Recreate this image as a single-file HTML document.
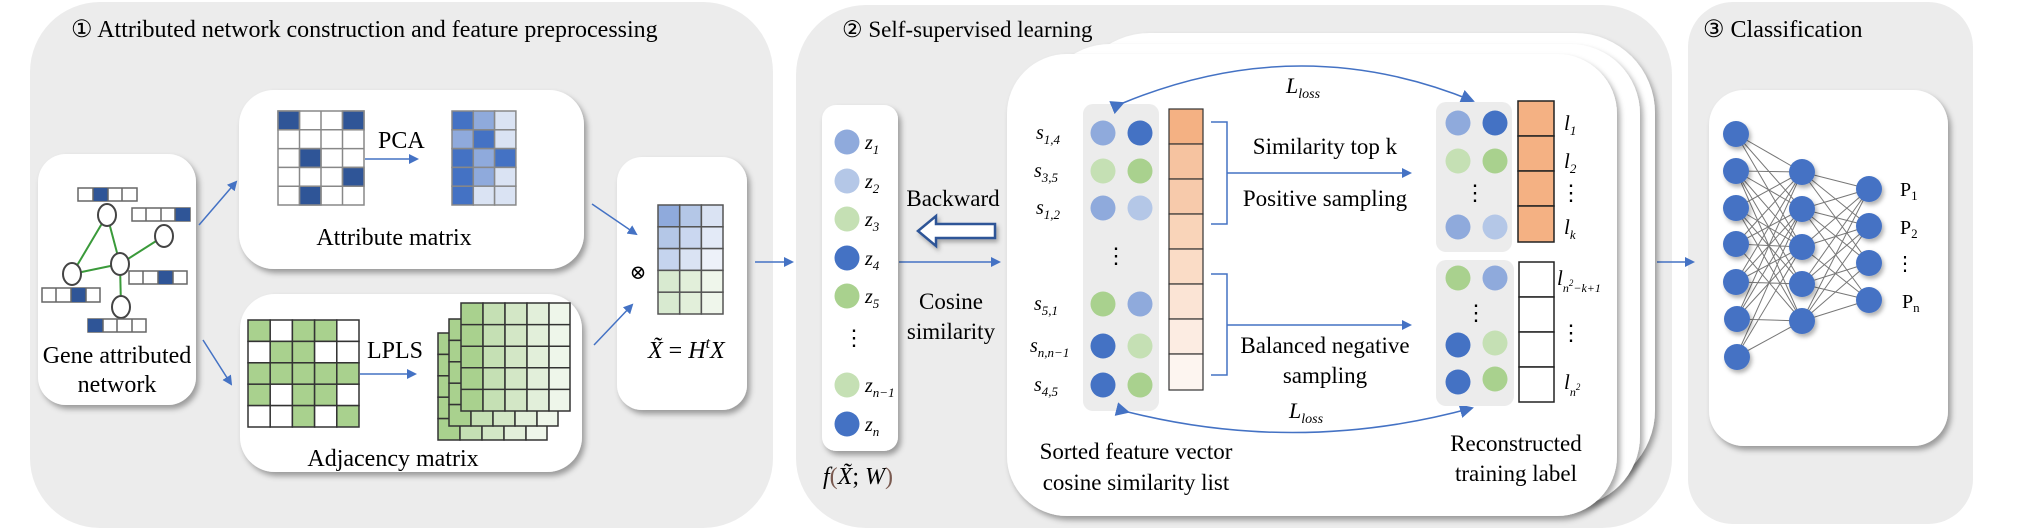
<!DOCTYPE html>
<html><head><meta charset="utf-8"><style>
html,body{margin:0;padding:0;background:#fff;}
svg{display:block;font-family:"Liberation Serif","Times New Roman",Tinos,"DejaVu Serif",serif;}
svg text{font-family:"Liberation Serif","Times New Roman",Tinos,"DejaVu Serif",serif;fill:#000;}
.it{font-style:italic;}
</style></head><body>
<svg width="2017" height="530" viewBox="0 0 2017 530" xmlns="http://www.w3.org/2000/svg" font-family="Liberation Serif, Times New Roman, serif">
<defs>
<filter id="sh" x="-10%" y="-10%" width="125%" height="125%"><feDropShadow dx="3" dy="4" stdDeviation="3" flood-color="#000" flood-opacity="0.35"/></filter>
<filter id="sh2" x="-30%" y="-30%" width="170%" height="170%"><feDropShadow dx="2" dy="3" stdDeviation="2" flood-color="#000" flood-opacity="0.3"/></filter>
<marker id="ah" markerWidth="10" markerHeight="10" refX="8" refY="5" orient="auto" markerUnits="userSpaceOnUse"><path d="M0,0 L10,5 L0,10 z" fill="#4472c4"/></marker>
<marker id="ahs" markerWidth="14" markerHeight="14" refX="12" refY="7" orient="auto" markerUnits="userSpaceOnUse"><path d="M0,0 L14,7 L0,14 z" fill="#4472c4"/></marker>
</defs>

<rect x="30" y="2" width="743" height="526" rx="70" fill="#ececec"/>
<rect x="796" y="5" width="876" height="523" rx="70" fill="#ececec"/>
<rect x="1688" y="2" width="285" height="522" rx="45" fill="#ececec"/>

<text x="71" y="37" font-size="24">① Attributed network construction and feature preprocessing</text>
<text x="1703" y="37" font-size="24">③ Classification</text>

<rect x="38" y="154" width="158" height="251" rx="28" fill="#fff" filter="url(#sh)"/>
<rect x="239" y="90" width="345" height="179" rx="35" fill="#fff" filter="url(#sh)"/>
<rect x="240" y="294" width="342" height="178" rx="35" fill="#fff" filter="url(#sh)"/>
<rect x="617" y="157" width="130" height="253" rx="25" fill="#fff" filter="url(#sh)"/>

<g stroke="#3a9a3a" stroke-width="2">
<line x1="107" y1="215" x2="72" y2="274"/><line x1="107" y1="215" x2="120" y2="264"/>
<line x1="120" y1="264" x2="72" y2="274"/><line x1="120" y1="264" x2="164" y2="236"/>
<line x1="120" y1="264" x2="121" y2="307"/>
</g>
<g fill="#fff" stroke="#444" stroke-width="2">
<ellipse cx="107" cy="215" rx="9" ry="11"/><ellipse cx="164" cy="236" rx="9" ry="11"/>
<ellipse cx="120" cy="264" rx="9" ry="11"/><ellipse cx="72" cy="274" rx="9" ry="11"/>
<ellipse cx="121" cy="307" rx="9" ry="11"/>
</g>
<g stroke="#666" stroke-width="1.5" fill="#fff">
<rect x="78" y="188" width="59" height="13"/><rect x="132" y="208" width="58" height="13"/>
<rect x="129" y="271" width="58" height="13"/><rect x="42" y="288" width="58" height="14"/>
<rect x="88" y="319" width="58" height="13"/>
</g>
<g fill="#2f5597">
<rect x="93" y="188" width="15" height="13"/><rect x="175" y="208" width="15" height="13"/>
<rect x="158" y="271" width="15" height="13"/><rect x="71" y="288" width="15" height="14"/>
<rect x="88" y="319" width="15" height="13"/>
</g>
<g stroke="#666" stroke-width="1.5">
<line x1="93" y1="188" x2="93" y2="201"/><line x1="108" y1="188" x2="108" y2="201"/><line x1="122" y1="188" x2="122" y2="201"/>
<line x1="146" y1="208" x2="146" y2="221"/><line x1="161" y1="208" x2="161" y2="221"/><line x1="175" y1="208" x2="175" y2="221"/>
<line x1="143" y1="271" x2="143" y2="284"/><line x1="158" y1="271" x2="158" y2="284"/><line x1="173" y1="271" x2="173" y2="284"/>
<line x1="56" y1="288" x2="56" y2="302"/><line x1="71" y1="288" x2="71" y2="302"/><line x1="86" y1="288" x2="86" y2="302"/>
<line x1="103" y1="319" x2="103" y2="332"/><line x1="117" y1="319" x2="117" y2="332"/><line x1="132" y1="319" x2="132" y2="332"/>
</g>
<text x="117" y="363" font-size="24" text-anchor="middle">Gene attributed</text>
<text x="117" y="392" font-size="24" text-anchor="middle">network</text>

<g stroke="#888" stroke-width="1.5">
<rect x="278" y="111" width="86" height="94" fill="#fff"/>
<rect x="278" y="111" width="21.5" height="18.8" fill="#2f5597"/>
<rect x="342.5" y="111" width="21.5" height="18.8" fill="#2f5597"/>
<rect x="299.5" y="148.6" width="21.5" height="18.8" fill="#2f5597"/>
<rect x="342.5" y="167.4" width="21.5" height="18.8" fill="#2f5597"/>
<rect x="299.5" y="186.2" width="21.5" height="18.8" fill="#2f5597"/>
<line x1="299.5" y1="111" x2="299.5" y2="205"/><line x1="321" y1="111" x2="321" y2="205"/><line x1="342.5" y1="111" x2="342.5" y2="205"/>
<line x1="278" y1="129.8" x2="364" y2="129.8"/><line x1="278" y1="148.6" x2="364" y2="148.6"/><line x1="278" y1="167.4" x2="364" y2="167.4"/><line x1="278" y1="186.2" x2="364" y2="186.2"/>
</g>
<text x="378" y="148" font-size="24">PCA</text>
<line x1="365" y1="159" x2="417" y2="159" stroke="#4472c4" stroke-width="1.5" marker-end="url(#ah)"/>
<g stroke="#888" stroke-width="1.5">
<rect x="452" y="111" width="21.3" height="18.8" fill="#4472c4"/><rect x="473.3" y="111" width="21.3" height="18.8" fill="#8faadc"/><rect x="494.6" y="111" width="21.3" height="18.8" fill="#dae3f3"/>
<rect x="452" y="129.8" width="21.3" height="18.8" fill="#8faadc"/><rect x="473.3" y="129.8" width="21.3" height="18.8" fill="#4472c4"/><rect x="494.6" y="129.8" width="21.3" height="18.8" fill="#dae3f3"/>
<rect x="452" y="148.6" width="21.3" height="18.8" fill="#4472c4"/><rect x="473.3" y="148.6" width="21.3" height="18.8" fill="#8faadc"/><rect x="494.6" y="148.6" width="21.3" height="18.8" fill="#4472c4"/>
<rect x="452" y="167.4" width="21.3" height="18.8" fill="#4472c4"/><rect x="473.3" y="167.4" width="21.3" height="18.8" fill="#8faadc"/><rect x="494.6" y="167.4" width="21.3" height="18.8" fill="#dae3f3"/>
<rect x="452" y="186.2" width="21.3" height="18.8" fill="#4472c4"/><rect x="473.3" y="186.2" width="21.3" height="18.8" fill="#dae3f3"/><rect x="494.6" y="186.2" width="21.3" height="18.8" fill="#dae3f3"/>
</g>
<text x="394" y="245" font-size="24" text-anchor="middle">Attribute matrix</text>

<g stroke="#333" stroke-width="1.5">
<rect x="248" y="320" width="22.2" height="21.4" fill="#a9d18e"/><rect x="270.2" y="320" width="22.2" height="21.4" fill="#fff"/><rect x="292.4" y="320" width="22.2" height="21.4" fill="#a9d18e"/><rect x="314.6" y="320" width="22.2" height="21.4" fill="#a9d18e"/><rect x="336.8" y="320" width="22.2" height="21.4" fill="#fff"/>
<rect x="248" y="341.4" width="22.2" height="21.4" fill="#fff"/><rect x="270.2" y="341.4" width="22.2" height="21.4" fill="#a9d18e"/><rect x="292.4" y="341.4" width="22.2" height="21.4" fill="#a9d18e"/><rect x="314.6" y="341.4" width="22.2" height="21.4" fill="#fff"/><rect x="336.8" y="341.4" width="22.2" height="21.4" fill="#fff"/>
<rect x="248" y="362.8" width="22.2" height="21.4" fill="#a9d18e"/><rect x="270.2" y="362.8" width="22.2" height="21.4" fill="#a9d18e"/><rect x="292.4" y="362.8" width="22.2" height="21.4" fill="#a9d18e"/><rect x="314.6" y="362.8" width="22.2" height="21.4" fill="#a9d18e"/><rect x="336.8" y="362.8" width="22.2" height="21.4" fill="#a9d18e"/>
<rect x="248" y="384.2" width="22.2" height="21.4" fill="#a9d18e"/><rect x="270.2" y="384.2" width="22.2" height="21.4" fill="#fff"/><rect x="292.4" y="384.2" width="22.2" height="21.4" fill="#a9d18e"/><rect x="314.6" y="384.2" width="22.2" height="21.4" fill="#a9d18e"/><rect x="336.8" y="384.2" width="22.2" height="21.4" fill="#fff"/>
<rect x="248" y="405.6" width="22.2" height="21.4" fill="#fff"/><rect x="270.2" y="405.6" width="22.2" height="21.4" fill="#fff"/><rect x="292.4" y="405.6" width="22.2" height="21.4" fill="#a9d18e"/><rect x="314.6" y="405.6" width="22.2" height="21.4" fill="#fff"/><rect x="336.8" y="405.6" width="22.2" height="21.4" fill="#a9d18e"/>
</g>
<text x="367" y="358" font-size="24">LPLS</text>
<line x1="360" y1="374" x2="415" y2="374" stroke="#4472c4" stroke-width="1.5" marker-end="url(#ah)"/>
<g stroke="#333" stroke-width="1.5">
<g transform="translate(438,333)">
<rect x="0" y="0" width="22" height="21.4" fill="#a9d18e"/><rect x="0" y="21.4" width="22" height="21.4" fill="#a9d18e"/><rect x="0" y="42.8" width="22" height="21.4" fill="#a9d18e"/><rect x="0" y="64.2" width="22" height="21.4" fill="#a9d18e"/><rect x="0" y="85.6" width="22" height="21.4" fill="#a9d18e"/>
<rect x="22" y="85.6" width="22" height="21.4" fill="#c5e0b4"/><rect x="44" y="85.6" width="22" height="21.4" fill="#d3e7c6"/><rect x="66" y="85.6" width="22" height="21.4" fill="#e2efda"/><rect x="88" y="85.6" width="21" height="21.4" fill="#eef6ea"/>
</g>
<g transform="translate(449,319)">
<rect x="0" y="0" width="22" height="21.4" fill="#a9d18e"/><rect x="0" y="21.4" width="22" height="21.4" fill="#a9d18e"/><rect x="0" y="42.8" width="22" height="21.4" fill="#a9d18e"/><rect x="0" y="64.2" width="22" height="21.4" fill="#a9d18e"/><rect x="0" y="85.6" width="22" height="21.4" fill="#a9d18e"/>
<rect x="22" y="85.6" width="22" height="21.4" fill="#c5e0b4"/><rect x="44" y="85.6" width="22" height="21.4" fill="#d3e7c6"/><rect x="66" y="85.6" width="22" height="21.4" fill="#e2efda"/><rect x="88" y="85.6" width="21" height="21.4" fill="#eef6ea"/>
</g>
<g transform="translate(461,303)">
<rect x="0" y="0" width="22" height="108" fill="#a9d18e"/><rect x="22" y="0" width="22" height="108" fill="#c5e0b4"/><rect x="44" y="0" width="22" height="108" fill="#d3e7c6"/><rect x="66" y="0" width="22" height="108" fill="#e2efda"/><rect x="88" y="0" width="21" height="108" fill="#eef6ea"/>
<line x1="0" y1="21.6" x2="109" y2="21.6"/><line x1="0" y1="43.2" x2="109" y2="43.2"/><line x1="0" y1="64.8" x2="109" y2="64.8"/><line x1="0" y1="86.4" x2="109" y2="86.4"/>
</g>
</g>
<text x="393" y="466" font-size="24" text-anchor="middle">Adjacency matrix</text>

<g stroke="#555" stroke-width="1.5">
<rect x="658" y="205" width="21.7" height="21.8" fill="#8faadc"/><rect x="679.7" y="205" width="21.7" height="21.8" fill="#b4c7e7"/><rect x="701.4" y="205" width="21.6" height="21.8" fill="#dae3f3"/>
<rect x="658" y="226.8" width="21.7" height="21.8" fill="#b4c7e7"/><rect x="679.7" y="226.8" width="21.7" height="21.8" fill="#cad7f0"/><rect x="701.4" y="226.8" width="21.6" height="21.8" fill="#e3eaf7"/>
<rect x="658" y="248.6" width="21.7" height="21.8" fill="#c5d4ee"/><rect x="679.7" y="248.6" width="21.7" height="21.8" fill="#dae3f3"/><rect x="701.4" y="248.6" width="21.6" height="21.8" fill="#edf1f9"/>
<rect x="658" y="270.4" width="21.7" height="21.8" fill="#d8ead0"/><rect x="679.7" y="270.4" width="21.7" height="21.8" fill="#e2efda"/><rect x="701.4" y="270.4" width="21.6" height="21.8" fill="#eff6eb"/>
<rect x="658" y="292.2" width="21.7" height="21.8" fill="#d8ead0"/><rect x="679.7" y="292.2" width="21.7" height="21.8" fill="#e2efda"/><rect x="701.4" y="292.2" width="21.6" height="21.8" fill="#eff6eb"/>
</g>
<text x="638" y="279" font-size="20" text-anchor="middle">⊗</text>
<text x="648" y="358" font-size="24"><tspan class="it">X̃</tspan> = <tspan class="it">H</tspan><tspan class="it" font-size="16" dy="-10">t</tspan><tspan class="it" dy="10">X</tspan></text>

<g stroke="#4472c4" stroke-width="1.5" fill="none">
<line x1="199" y1="225" x2="236" y2="182" marker-end="url(#ah)"/>
<line x1="203" y1="340" x2="231" y2="384" marker-end="url(#ah)"/>
<line x1="592" y1="204" x2="636" y2="234" marker-end="url(#ah)"/>
<line x1="594" y1="345" x2="632" y2="305" marker-end="url(#ah)"/>
<line x1="755" y1="262" x2="792" y2="262" marker-end="url(#ah)"/>
<line x1="899" y1="262" x2="999" y2="262" marker-end="url(#ah)"/>
<line x1="1657" y1="262" x2="1693" y2="262" marker-end="url(#ah)"/>
</g>

<rect x="822" y="105" width="76" height="346" rx="14" fill="#fff" filter="url(#sh)"/>
<g>
<circle cx="847" cy="142" r="12.5" fill="#8faadc"/><circle cx="847" cy="181" r="12.5" fill="#b4c7e7"/>
<circle cx="847" cy="219" r="12.5" fill="#c5e0b4"/><circle cx="847" cy="258" r="12.5" fill="#4472c4"/>
<circle cx="847" cy="296" r="12.5" fill="#a9d18e"/><circle cx="847" cy="385" r="12.5" fill="#c5e0b4"/>
<circle cx="847" cy="424" r="12.5" fill="#4472c4"/>
</g>
<g font-size="20">
<text x="865" y="149" class="it">z<tspan font-size="13" dy="5">1</tspan></text>
<text x="865" y="188" class="it">z<tspan font-size="13" dy="5">2</tspan></text>
<text x="865" y="226" class="it">z<tspan font-size="13" dy="5">3</tspan></text>
<text x="865" y="265" class="it">z<tspan font-size="13" dy="5">4</tspan></text>
<text x="865" y="303" class="it">z<tspan font-size="13" dy="5">5</tspan></text>
<text x="865" y="392" class="it">z<tspan font-size="13" dy="5">n−1</tspan></text>
<text x="865" y="431" class="it">z<tspan font-size="13" dy="5">n</tspan></text>
</g>
<text x="854" y="345" font-size="22" text-anchor="middle">⋮</text>
<text x="823" y="484" font-size="24"><tspan class="it">f</tspan><tspan fill="#7a5a50">(</tspan><tspan class="it">X̃</tspan>; <tspan class="it">W</tspan><tspan fill="#7a5a50">)</tspan></text>
<text x="953" y="206" font-size="23" text-anchor="middle">Backward</text>
<path d="M918,231 L936,216 L936,224 L995,224 L995,238 L936,238 L936,246 Z" fill="#fff" stroke="#2f5597" stroke-width="2.5" filter="url(#sh2)"/>
<text x="951" y="309" font-size="23" text-anchor="middle">Cosine</text>
<text x="951" y="339" font-size="23" text-anchor="middle">similarity</text>

<rect x="1070" y="33" width="585" height="457" rx="80" fill="#fff" filter="url(#sh)"/>
<rect x="1040" y="44" width="600" height="462" rx="70" fill="#fff" filter="url(#sh)"/>
<rect x="1007" y="54" width="610" height="462" rx="60" fill="#fff" filter="url(#sh)"/>
<text x="842" y="37" font-size="23">② Self-supervised learning</text>

<rect x="1083" y="104" width="76" height="307" rx="10" fill="#ececec"/>
<g>
<circle cx="1103" cy="133" r="12.5" fill="#8faadc"/><circle cx="1140" cy="133" r="12.5" fill="#4472c4"/>
<circle cx="1103" cy="171" r="12.5" fill="#c5e0b4"/><circle cx="1140" cy="171" r="12.5" fill="#a9d18e"/>
<circle cx="1103" cy="208" r="12.5" fill="#8faadc"/><circle cx="1140" cy="208" r="12.5" fill="#b4c7e7"/>
<circle cx="1103" cy="304" r="12.5" fill="#a9d18e"/><circle cx="1140" cy="304" r="12.5" fill="#8faadc"/>
<circle cx="1103" cy="346" r="12.5" fill="#4472c4"/><circle cx="1140" cy="346" r="12.5" fill="#c5e0b4"/>
<circle cx="1103" cy="385" r="12.5" fill="#4472c4"/><circle cx="1140" cy="385" r="12.5" fill="#a9d18e"/>
</g>
<text x="1116" y="263" font-size="22" text-anchor="middle">⋮</text>
<g font-size="20">
<text x="1036" y="139" class="it">s<tspan font-size="13" dy="5">1,4</tspan></text>
<text x="1034" y="177" class="it">s<tspan font-size="13" dy="5">3,5</tspan></text>
<text x="1036" y="214" class="it">s<tspan font-size="13" dy="5">1,2</tspan></text>
<text x="1034" y="310" class="it">s<tspan font-size="13" dy="5">5,1</tspan></text>
<text x="1030" y="352" class="it">s<tspan font-size="13" dy="5">n,n−1</tspan></text>
<text x="1034" y="391" class="it">s<tspan font-size="13" dy="5">4,5</tspan></text>
</g>
<g stroke="#333" stroke-width="1.2">
<rect x="1169" y="109" width="34" height="35" fill="#f4b183"/>
<rect x="1169" y="144" width="34" height="35" fill="#f6c3a0"/>
<rect x="1169" y="179" width="34" height="35" fill="#f7caab"/>
<rect x="1169" y="214" width="34" height="35" fill="#f9d4b9"/>
<rect x="1169" y="249" width="34" height="35" fill="#fadcc6"/>
<rect x="1169" y="284" width="34" height="35" fill="#fbe4d5"/>
<rect x="1169" y="319" width="34" height="35" fill="#fcece2"/>
<rect x="1169" y="354" width="34" height="36" fill="#fdf5f0"/>
</g>
<g stroke="#4472c4" stroke-width="1.5" fill="none">
<path d="M1211,122 L1227,122 L1227,224 L1211,224 M1227,173 L1410,173" marker-end="url(#ah)"/>
<path d="M1211,274 L1227,274 L1227,375 L1211,375 M1227,325 L1410,325" marker-end="url(#ah)"/>
<path d="M1123,103 Q1300,30 1473,101" marker-start="url(#ahs)" marker-end="url(#ahs)"/>
<path d="M1128,412 Q1300,455 1472,408" marker-start="url(#ahs)" marker-end="url(#ahs)"/>
</g>
<text x="1325" y="154" font-size="23" text-anchor="middle">Similarity top k</text>
<text x="1325" y="206" font-size="23" text-anchor="middle">Positive sampling</text>
<text x="1325" y="353" font-size="23" text-anchor="middle">Balanced negative</text>
<text x="1325" y="383" font-size="23" text-anchor="middle">sampling</text>
<text x="1286" y="93" font-size="22" class="it">L<tspan font-size="14" dy="5">loss</tspan></text>
<text x="1289" y="418" font-size="22" class="it">L<tspan font-size="14" dy="5">loss</tspan></text>

<rect x="1436" y="102" width="76" height="150" rx="10" fill="#ececec"/>
<circle cx="1458" cy="123" r="12.5" fill="#8faadc"/><circle cx="1495" cy="123" r="12.5" fill="#4472c4"/>
<circle cx="1458" cy="161" r="12.5" fill="#c5e0b4"/><circle cx="1495" cy="161" r="12.5" fill="#a9d18e"/>
<circle cx="1458" cy="227" r="12.5" fill="#8faadc"/><circle cx="1495" cy="227" r="12.5" fill="#b4c7e7"/>
<text x="1475" y="200" font-size="22" text-anchor="middle">⋮</text>
<g stroke="#222" stroke-width="1.5" fill="#f4b183">
<rect x="1518" y="101" width="36" height="35"/><rect x="1518" y="136" width="36" height="35"/>
<rect x="1518" y="171" width="36" height="35"/><rect x="1518" y="206" width="36" height="36"/>
</g>
<rect x="1436" y="260" width="78" height="146" rx="10" fill="#ececec"/>
<circle cx="1458" cy="278" r="12.5" fill="#a9d18e"/><circle cx="1495" cy="278" r="12.5" fill="#8faadc"/>
<circle cx="1458" cy="345" r="12.5" fill="#4472c4"/><circle cx="1495" cy="343" r="12.5" fill="#c5e0b4"/>
<circle cx="1458" cy="382" r="12.5" fill="#4472c4"/><circle cx="1495" cy="379" r="12.5" fill="#a9d18e"/>
<text x="1476" y="320" font-size="22" text-anchor="middle">⋮</text>
<g stroke="#222" stroke-width="1.5" fill="#fff">
<rect x="1519" y="262" width="35" height="35"/><rect x="1519" y="297" width="35" height="35"/>
<rect x="1519" y="332" width="35" height="35"/><rect x="1519" y="367" width="35" height="35"/>
</g>
<g font-size="21">
<text x="1564" y="130" class="it">l<tspan font-size="13" dy="5">1</tspan></text>
<text x="1564" y="168" class="it">l<tspan font-size="13" dy="5">2</tspan></text>
<text x="1564" y="234" class="it">l<tspan font-size="13" dy="5">k</tspan></text>
<text x="1557" y="285" class="it">l<tspan font-size="12" dy="7">n<tspan font-size="9" dy="-6">2</tspan><tspan dy="6">−k+1</tspan></tspan></text>
<text x="1564" y="389" class="it">l<tspan font-size="12" dy="7">n<tspan font-size="9" dy="-6">2</tspan></tspan></text>
</g>
<text x="1571" y="200" font-size="22" text-anchor="middle">⋮</text>
<text x="1571" y="340" font-size="22" text-anchor="middle">⋮</text>
<text x="1136" y="459" font-size="23" text-anchor="middle">Sorted feature vector</text>
<text x="1136" y="490" font-size="23" text-anchor="middle">cosine similarity list</text>
<text x="1516" y="451" font-size="23" text-anchor="middle">Reconstructed</text>
<text x="1516" y="481" font-size="23" text-anchor="middle">training label</text>

<rect x="1709" y="90" width="239" height="356" rx="35" fill="#fff" filter="url(#sh)"/>
<g stroke="#777" stroke-width="1">
<path d="M1736,134 L1802,172 M1736,134 L1802,209 M1736,134 L1802,247
M1736,171 L1802,172 M1736,171 L1802,209 M1736,171 L1802,247 M1736,171 L1802,284 M1736,171 L1802,321
M1736,208 L1802,172 M1736,208 L1802,247 M1736,208 L1802,284 M1736,208 L1802,321
M1736,244 L1802,172 M1736,244 L1802,209 M1736,244 L1802,247 M1736,244 L1802,321
M1736,282 L1802,172 M1736,282 L1802,209 M1736,282 L1802,284 M1736,282 L1802,247
M1736,319 L1802,209 M1736,319 L1802,247 M1736,319 L1802,321 M1736,319 L1802,172
M1736,357 L1802,209 M1736,357 L1802,247 M1736,357 L1802,321
M1802,172 L1869,189 M1802,172 L1869,226 M1802,172 L1869,263
M1802,209 L1869,189 M1802,209 L1869,226 M1802,209 L1869,300 M1802,209 L1869,263
M1802,247 L1869,189 M1802,247 L1869,226 M1802,247 L1869,300
M1802,284 L1869,189 M1802,284 L1869,226 M1802,284 L1869,263 M1802,284 L1869,300
M1802,321 L1869,189 M1802,321 L1869,226 M1802,321 L1869,263 M1802,321 L1869,300"/>
</g>
<g fill="#4472c4" filter="url(#sh2)">
<circle cx="1736" cy="134" r="13"/><circle cx="1736" cy="171" r="13"/><circle cx="1736" cy="208" r="13"/>
<circle cx="1736" cy="244" r="13"/><circle cx="1736" cy="282" r="13"/><circle cx="1737" cy="319" r="13"/>
<circle cx="1737" cy="357" r="13"/>
<circle cx="1802" cy="172" r="13"/><circle cx="1802" cy="209" r="13"/><circle cx="1802" cy="247" r="13"/>
<circle cx="1802" cy="284" r="13"/><circle cx="1802" cy="321" r="13"/>
<circle cx="1869" cy="189" r="13"/><circle cx="1869" cy="226" r="13"/><circle cx="1869" cy="263" r="13"/>
<circle cx="1869" cy="300" r="13"/>
</g>
<text x="1900" y="196" font-size="20">P<tspan font-size="13" dy="4">1</tspan></text>
<text x="1900" y="234" font-size="20">P<tspan font-size="13" dy="4">2</tspan></text>
<text x="1905" y="270" font-size="20" text-anchor="middle">⋮</text>
<text x="1902" y="308" font-size="20">P<tspan font-size="13" dy="4">n</tspan></text>
</svg>
</body></html>
